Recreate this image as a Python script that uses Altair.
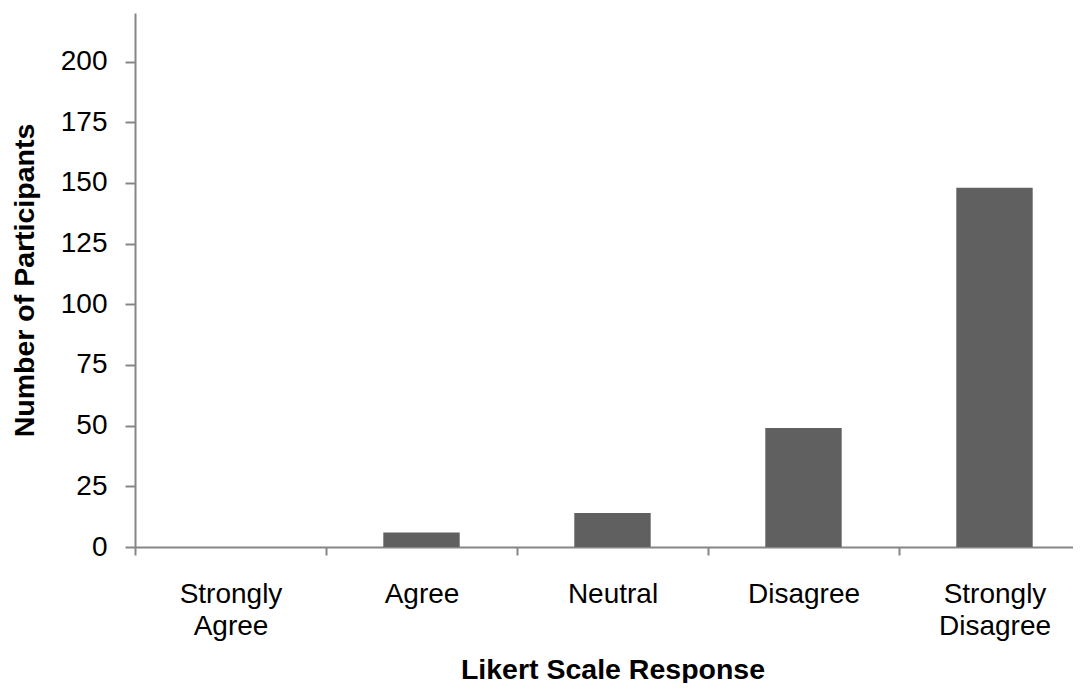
import altair as alt
import pandas as pd

categories = ["Strongly Agree", "Agree", "Neutral", "Disagree", "Strongly Disagree"]
counts = [0, 6, 14, 49, 148]
y_ticks = [0, 25, 50, 75, 100, 125, 150, 175, 200]

df = pd.DataFrame({"response": categories, "count": counts})

axis_gray = "#868686"
font = "Liberation Sans"

chart = alt.Chart(df).mark_bar(color="#606060", width=alt.RelativeBandSize(0.4)).encode(
    x=alt.X(
        "response:N",
        sort=categories,
        scale=alt.Scale(paddingInner=0, paddingOuter=0),
        axis=alt.Axis(
            title="Likert Scale Response",
            labelAngle=0,
            labelExpr="split(datum.label, ' ')",
            labelLineHeight=32,
            labelFontSize=28,
            labelFont=font,
            labelColor="#000000",
            labelPadding=25,
            tickBand="extent",
            tickSize=8,
            tickColor=axis_gray,
            tickWidth=2,
            domainColor=axis_gray,
            domainWidth=2,
            titleFont=font,
            titleFontSize=28.5,
            titleFontWeight="bold",
            titleColor="#000000",
            titleBaseline="alphabetic",
            titleY=131,
        ),
    ),
    y=alt.Y(
        "count:Q",
        scale=alt.Scale(domain=[0, 220], nice=False),
        axis=alt.Axis(
            title="Number of Participants",
            values=y_ticks,
            grid=False,
            labelFontSize=28,
            labelFont=font,
            labelColor="#000000",
            labelPadding=18,
            tickSize=10,
            tickColor=axis_gray,
            tickWidth=2,
            domainColor=axis_gray,
            domainWidth=2,
            titleFont=font,
            titleFontSize=28.5,
            titleFontWeight="bold",
            titleColor="#000000",
            titleBaseline="alphabetic",
            titleX=-102,
        ),
    ),
).properties(
    width=955,
    height=534,
    autosize=alt.AutoSizeParams(type="none"),
    padding={"left": 127, "top": 5, "right": -17, "bottom": 136},
).configure_view(strokeWidth=0)

chart.save("out.html", embed_options={"renderer": "svg", "actions": False})
